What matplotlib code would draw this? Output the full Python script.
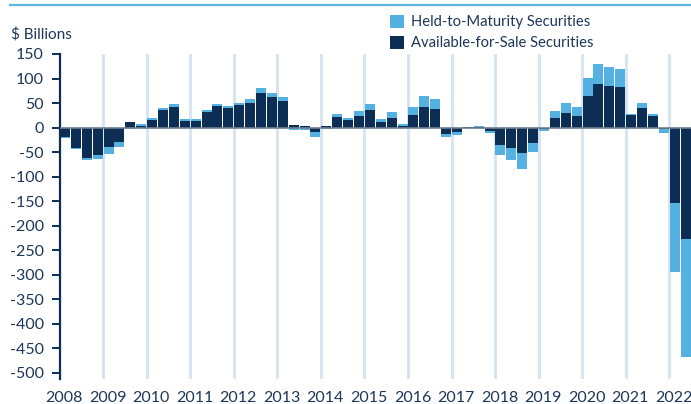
import numpy as np
import matplotlib
matplotlib.use("Agg")
import matplotlib.pyplot as plt
import matplotlib.transforms as mtransforms
from matplotlib.lines import Line2D

# quarterly change, 2008 Q1 .. 2022 Q2 ($ billions)
afs = [-19, -42, -62, -56, -40, -29, 12, 4,
       16, 35, 41, 14, 14, 31, 43, 39,
       45, 51, 71, 63, 55, 6, 4, -10,
       4, 22, 16, 24, 35, 12, 20, 4,
       26, 41, 37, -14, -10, 2, 2, -8,
       -35, -41, -52, -31, -2, 20, 29, 24,
       65, 88, 84, 82, 26, 39, 23, -2,
       -153, -228]
htm = [-2, -2, -4, -8, -14, -10, -3, 4,
       4, 4, 6, 4, 4, 4, 4, 4,
       6, 8, 10, 8, 8, -5, -5, -10,
       -3, 6, 4, 10, 14, 6, 12, 4,
       16, 24, 22, -6, -6, 0, 2, -4,
       -22, -26, -33, -18, -5, 14, 22, 18,
       37, 41, 39, 37, 2, 12, 4, -10,
       -141, -241]
years = list(range(2008, 2023))
yticks = list(range(150, -501, -50))

navy = '#0d2e54'
light = '#56b1e3'
txt = '#1d3658'

plt.rcParams['font.family'] = ['Lato', 'DejaVu Sans']

afs = np.array(afs)
htm = np.array(htm)
x = 2008 + np.arange(len(afs)) * 0.25 + 0.125
# stack HTM on AFS when same sign, otherwise from zero
bottom = np.where(np.sign(htm) == np.sign(afs), afs, 0)

fig = plt.figure(figsize=(6.91, 4.04), dpi=100)
ax = fig.add_axes([59.6 / 691, 25 / 404, 1 - 59.6 / 691, 325 / 404])

for yr in years[1:]:
    ax.axvline(yr, color='#d8e4ef', lw=2.2, zorder=0)

ax.bar(x, afs, width=0.23, color=navy, zorder=2, label='Available-for-Sale Securities')
ax.bar(x, htm, width=0.23, bottom=bottom, color=light, zorder=2, label='Held-to-Maturity Securities')
ax.axhline(0, color='#6e7e90', lw=1.2, zorder=3)

ax.set_xlim(2008, 2022.5)
ax.set_ylim(-513, 150)
ax.set_yticks(yticks)
ax.set_yticklabels([str(v) for v in yticks])
ax.set_xticks(years)
ax.set_xticklabels([str(v) for v in years])

for s in ['top', 'right', 'bottom']:
    ax.spines[s].set_visible(False)
ax.spines['left'].set_color(navy)
ax.spines['left'].set_linewidth(1.6)
ax.tick_params(axis='y', length=5.5, width=1.4, color=navy, pad=6, labelsize=11.5, labelcolor=txt)
ax.tick_params(axis='x', length=0, pad=9, labelsize=11.5, labelcolor=txt)
off = mtransforms.ScaledTranslation(4.5 / 100, 0, fig.dpi_scale_trans)
for lab in ax.get_xticklabels():
    lab.set_transform(lab.get_transform() + off)

fig.text(11 / 691, 1 - 34 / 404, '$ Billions', fontsize=11, color=txt, va='center', ha='left')
fig.add_artist(Line2D([10 / 691, 1], [1 - 4.7 / 404, 1 - 4.7 / 404], color='#5ab6e6', lw=1.6,
                      transform=fig.transFigure))

h, l = ax.get_legend_handles_labels()
fig.legend(h[::-1], l[::-1], loc='upper left', bbox_to_anchor=(390 / 691, 1 - 15 / 404),
           frameon=False, fontsize=10.6, labelcolor=txt, borderpad=0, borderaxespad=0,
           handlelength=0.95, handleheight=0.95, handletextpad=0.45, labelspacing=0.45)

fig.savefig('out.png', dpi=100)
